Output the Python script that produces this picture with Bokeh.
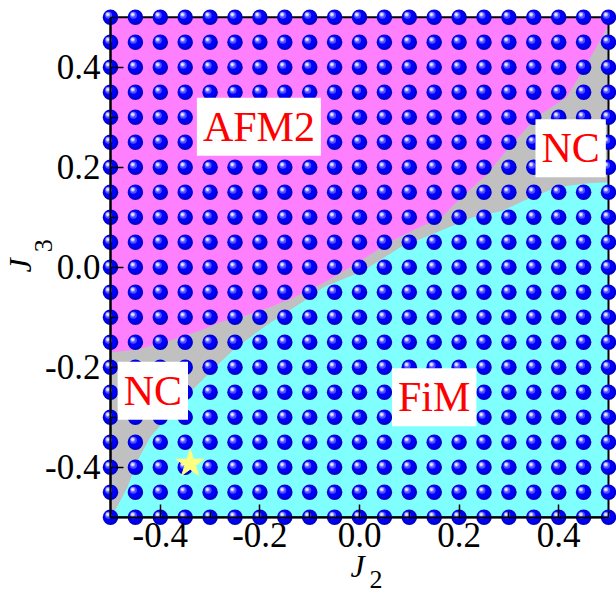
import math
from bokeh.plotting import figure
from bokeh.models import Label, FixedTicker, PrintfTickFormatter, Range1d, ColumnDataSource
from bokeh.embed import file_html
from bokeh.resources import INLINE

# ---------------- data ----------------
J2_GRID = [-0.5, -0.45, -0.4, -0.35, -0.3, -0.25, -0.2, -0.15, -0.1, -0.05, 0.0,
           0.05, 0.1, 0.15, 0.2, 0.25, 0.3, 0.35, 0.4, 0.45, 0.5]
J3_GRID = [-0.5, -0.45, -0.4, -0.35, -0.3, -0.25, -0.2, -0.15, -0.1, -0.05, 0.0,
           0.05, 0.1, 0.15, 0.2, 0.25, 0.3, 0.35, 0.4, 0.45, 0.5]

# AFM2 / NC boundary (left to right)
UPPER_J2 = [-0.5, -0.45, -0.4, -0.32, -0.28, -0.24, -0.185, -0.135, -0.07, -0.005,
            0.06, 0.11, 0.165, 0.2, 0.255, 0.295, 0.355, 0.416, 0.4625, 0.5]
UPPER_J3 = [-0.17, -0.165, -0.153, -0.127, -0.11, -0.1, -0.082, -0.062, -0.03, 0.008,
            0.05, 0.075, 0.1, 0.135, 0.185, 0.233, 0.3, 0.34, 0.417, 0.484]
# NC / FiM boundary (left to right)
LOWER_J2 = [-0.5, -0.49, -0.466, -0.446, -0.42, -0.386, -0.34, -0.3, -0.253, -0.185,
            -0.118, -0.072, 0.008, 0.082, 0.163, 0.228, 0.288, 0.33, 0.396, 0.46, 0.5]
LOWER_J3 = [-0.5, -0.485, -0.44, -0.387, -0.34, -0.3, -0.25, -0.21, -0.165, -0.115,
            -0.072, -0.04, -0.007, 0.04, 0.073, 0.1, 0.113, 0.133, 0.16, 0.168, 0.17]

STAR_J2 = [-0.34]
STAR_J3 = [-0.393]

PHASE_TEXT = ["AFM2", "NC", "NC", "FiM"]
PHASE_J2 = [-0.202, 0.424, -0.415, 0.15]
PHASE_J3 = [0.281, 0.238, -0.247, -0.26]

MAJOR_TICKS = [-0.4, -0.2, 0.0, 0.2, 0.4]
MINOR_TICKS = [-0.5, -0.3, -0.1, 0.1, 0.3, 0.5]

XMIN, XMAX, YMIN, YMAX = -0.5, 0.5, -0.5, 0.5

# ---------------- layout ----------------
W, H = 616, 593
PXX, PXY = 498.0, 500.0          # pixels per unit
BOX_LEFT, BOX_TOP = 110.0, 16.7  # pixel position of the data box inside the canvas

x_start = XMIN - BOX_LEFT / PXX
x_end = x_start + W / PXX
y_end = YMAX + BOX_TOP / PXY
y_start = y_end - H / PXY

SERIF = "Liberation Serif"

p = figure(width=W, height=H, output_backend="svg", toolbar_location=None,
           x_range=Range1d(x_start, x_end), y_range=Range1d(y_start, y_end),
           min_border_left=0, min_border_right=0, min_border_top=0, min_border_bottom=0)
p.outline_line_color = None
p.xgrid.visible = False
p.ygrid.visible = False
p.background_fill_color = "white"

# regions
p.quad(left=[XMIN], right=[XMAX], bottom=[YMIN], top=[YMAX],
       fill_color="#c0c0c0", line_color=None)
p.patch(x=[XMIN, XMAX] + UPPER_J2[::-1], y=[YMAX, YMAX] + UPPER_J3[::-1],
        fill_color="#ff80ff", line_color=None)
p.patch(x=LOWER_J2 + [XMAX], y=LOWER_J3 + [YMIN],
        fill_color="#80ffff", line_color=None)
p.quad(left=[XMIN], right=[XMAX], bottom=[YMIN], top=[YMAX],
       fill_color=None, line_color="black", line_width=2)

# grid of spheres
gx = [x for y in J3_GRID for x in J2_GRID]
gy = [y for y in J3_GRID for x in J2_GRID]
src = ColumnDataSource(dict(x=gx, y=gy))
p.scatter("x", "y", source=src, size=15.5, fill_color="#0000c8", line_color=None)
layers = [(-0.6, 0.6, 12.5, "#0000ff"), (-2.0, 2.0, 7, "#5050ff"),
          (-2.6, 2.6, 4.5, "#a8a8ff"), (-2.8, 2.8, 2.5, "#f0f0ff")]
for dx, dy, s, c in layers:
    p.scatter([x + dx / PXX for x in gx], [y + dy / PXY for y in gy],
              size=s, fill_color=c, line_color=None)

# star
p.scatter(STAR_J2, STAR_J3, marker="star", size=29,
          fill_color="#ffff80", line_color="#ffff80")

# phase labels
for t, x, y in zip(PHASE_TEXT, PHASE_J2, PHASE_J3):
    p.add_layout(Label(x=x, y=y, text=t, text_align="center", text_baseline="middle",
                       text_font=SERIF, text_font_size="42px", text_color="#ff0000",
                       background_fill_color="white", padding=6))

# axes
for ax in (p.xaxis, p.yaxis):
    ax.ticker = FixedTicker(ticks=MAJOR_TICKS, minor_ticks=MINOR_TICKS)
    ax.formatter = PrintfTickFormatter(format="%.1f")
    ax.bounds = (XMIN, XMAX)
    ax.axis_line_width = 2
    ax.axis_line_color = "black"
    ax.major_tick_in = 13
    ax.major_tick_out = 0
    ax.minor_tick_in = 6
    ax.minor_tick_out = 0
    ax.major_tick_line_width = 1.5
    ax.minor_tick_line_width = 1.5
    ax.major_tick_line_color = "black"
    ax.minor_tick_line_color = "black"
    ax.major_label_text_font = SERIF
    ax.major_label_text_font_size = "35px"
    ax.major_label_text_font_style = "normal"
    ax.major_label_text_color = "black"
p.xaxis.fixed_location = YMIN
p.yaxis.fixed_location = XMIN
p.xaxis.major_label_standoff = 6
p.yaxis.major_label_standoff = 10

# axis titles (J_2, J_3)
title_style = dict(text_font=SERIF, text_align="left", text_baseline="middle",
                   text_color="black")
p.add_layout(Label(x=-0.018, y=-0.5966, text="J", text_font_style="italic",
                   text_font_size="32px", **title_style))
p.add_layout(Label(x=0.0201, y=-0.6236, text="2", text_font_size="26px", **title_style))
p.add_layout(Label(x=-0.6823, y=-0.0106, text="J", text_font_style="italic",
                   text_font_size="32px", angle=math.pi / 2, **title_style))
p.add_layout(Label(x=-0.6347, y=0.03, text="3", text_font_size="26px",
                   angle=math.pi / 2, **title_style))

open("out.html", "w").write(file_html(p, INLINE))
